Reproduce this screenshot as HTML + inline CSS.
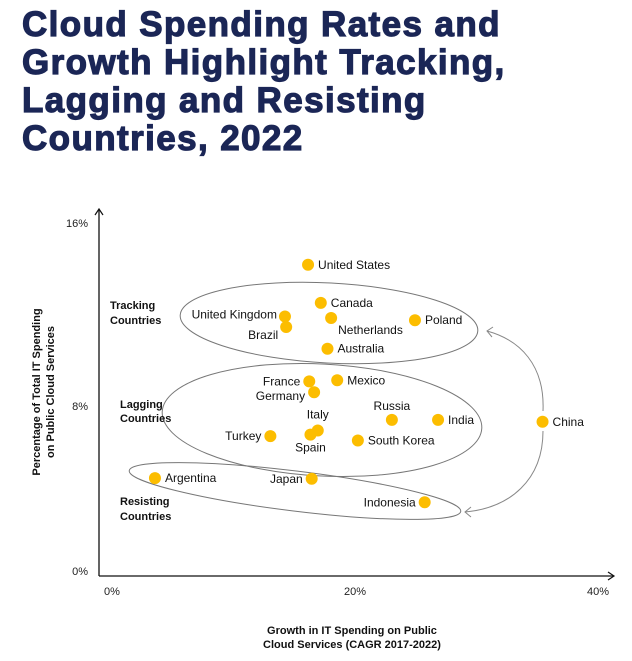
<!DOCTYPE html>
<html><head><meta charset="utf-8"><style>
html,body{margin:0;padding:0;background:#fff;}
body{width:632px;height:661px;position:relative;overflow:hidden;font-family:"Liberation Sans",Arial,sans-serif;}
h1{position:absolute;left:22px;top:6px;margin:0;font-size:35px;line-height:38px;font-weight:bold;color:#1b2656;letter-spacing:1.4px;-webkit-text-stroke:1.2px #1b2656;}
svg{position:absolute;left:0;top:0;}
</style></head><body>
<h1>Cloud Spending Rates and<br>Growth Highlight Tracking,<br>Lagging and Resisting<br>Countries, 2022</h1>
<svg id="chart" width="632" height="661"></svg>
<script>
const countries=["United States","Canada","United Kingdom","Brazil","Netherlands","Poland","Australia","France","Germany","Mexico","Russia","India","China","Turkey","Italy","Spain","South Korea","Argentina","Japan","Indonesia"];
const growth=[16.3,17.35,14.4,14.5,18.2,25.1,17.9,16.4,16.8,18.7,23.2,27.0,35.6,13.2,17.1,16.5,20.4,3.7,16.6,25.9];
const share=[14.08,12.33,11.7,11.22,11.63,11.53,10.22,8.72,8.22,8.77,6.95,6.95,6.86,6.2,6.46,6.27,6.0,4.27,4.24,3.16];
const xTicks=[0,20,40];
const xTickLabels=["0%","20%","40%"];
const yTicks=[0,8,16];
const yTickLabels=["0%","8%","16%"];
// label placement: [dx, dy, anchor]
const labelPos={"United States":[10,4,"start"],"Canada":[10,4,"start"],"United Kingdom":[-8,2,"end"],"Brazil":[-8,12,"end"],"Netherlands":[7,16,"start"],"Poland":[10,4,"start"],"Australia":[10,4,"start"],"France":[-9,4,"end"],"Germany":[-9,8,"end"],"Mexico":[10,4,"start"],"Russia":[0,-10,"middle"],"India":[10,4,"start"],"China":[10,4,"start"],"Turkey":[-9,4,"end"],"Italy":[0,-12,"middle"],"Spain":[0,17,"middle"],"South Korea":[10,4,"start"],"Argentina":[10,4,"start"],"Japan":[-9,4,"end"],"Indonesia":[-9,4,"end"]};

const NS="http://www.w3.org/2000/svg";
const svg=document.getElementById('chart');
const X=v=>110+v*12.15;
const Y=v=>571-v*21.75;
function mk(t,a,txt){const e=document.createElementNS(NS,t);for(const k in a)e.setAttribute(k,a[k]);if(txt!==undefined)e.textContent=txt;svg.appendChild(e);return e;}

let e;
e=mk('ellipse',{cx:329,cy:323,rx:149,ry:40,transform:'rotate(3 329 323)',fill:'none',stroke:'#777','stroke-width':1});

e=mk('ellipse',{cx:322,cy:420,rx:160,ry:56,transform:'rotate(3 322 420)',fill:'none',stroke:'#777','stroke-width':1});

e=mk('ellipse',{cx:295,cy:491,rx:167,ry:20,transform:'rotate(7 295 491)',fill:'none',stroke:'#777','stroke-width':1});


e=mk('path',{d:'M543 411 C545 365 520 340 487 331',fill:'none',stroke:'#888','stroke-width':1});

e=mk('path',{d:'M493 327 L487 331 L492 337',fill:'none',stroke:'#888','stroke-width':1});

e=mk('path',{d:'M543 431 C543 480 510 508 465 512',fill:'none',stroke:'#888','stroke-width':1});

e=mk('path',{d:'M471 507 L465 512 L471 517',fill:'none',stroke:'#888','stroke-width':1});


e=mk('line',{x1:99,y1:210,x2:99,y2:576,stroke:'#111','stroke-width':1.3});

e=mk('path',{d:'M95 215 L99 209 L103 215',fill:'none',stroke:'#111','stroke-width':1.2});

e=mk('line',{x1:99,y1:576,x2:613,y2:576,stroke:'#111','stroke-width':1.3});

e=mk('path',{d:'M608 572 L614 576 L608 580',fill:'none',stroke:'#111','stroke-width':1.2});


xTicks.forEach((v,i)=>{
  const t=mk('text',{x:X(v)+2,y:595,'font-size':11,'text-anchor':'middle',fill:'#222'},xTickLabels[i]);
  
  
});
const yLabY=[575,410,227];
yTicks.forEach((v,i)=>{
  const t=mk('text',{x:88,y:yLabY[i],'font-size':11,'text-anchor':'end',fill:'#222'},yTickLabels[i]);
  
  
});

e=mk('text',{x:352,y:634,'font-size':11,'font-weight':'bold','text-anchor':'middle',fill:'#111'},'Growth in IT Spending on Public');

e=mk('text',{x:352,y:648,'font-size':11,'font-weight':'bold','text-anchor':'middle',fill:'#111'},'Cloud Services (CAGR 2017-2022)');

e=mk('text',{x:0,y:0,'font-size':11,'font-weight':'bold','text-anchor':'middle',fill:'#111',transform:'translate(40 392) rotate(-90)'},'Percentage of Total IT Spending');

e=mk('text',{x:0,y:0,'font-size':11,'font-weight':'bold','text-anchor':'middle',fill:'#111',transform:'translate(54 392) rotate(-90)'},'on Public Cloud Services');


const groups=[["Tracking",110,309],["Countries",110,324],["Lagging",120,408],["Countries",120,422],["Resisting",120,505],["Countries",120,520]];
groups.forEach(g=>{
  const t=mk('text',{x:g[1],y:g[2],'font-size':11,'font-weight':'bold',fill:'#111'},g[0]);
  
  
});

countries.forEach((c,i)=>{
  const cx=X(growth[i]),cy=Y(share[i]);
  const d=mk('circle',{cx:cx,cy:cy,r:6,fill:'#fcbd00'});
  
  
  const p=labelPos[c];
  const t=mk('text',{x:cx+p[0],y:cy+p[1],'font-size':12,'text-anchor':p[2],fill:'#111'},c);
  
  
});
</script>
</body></html>
